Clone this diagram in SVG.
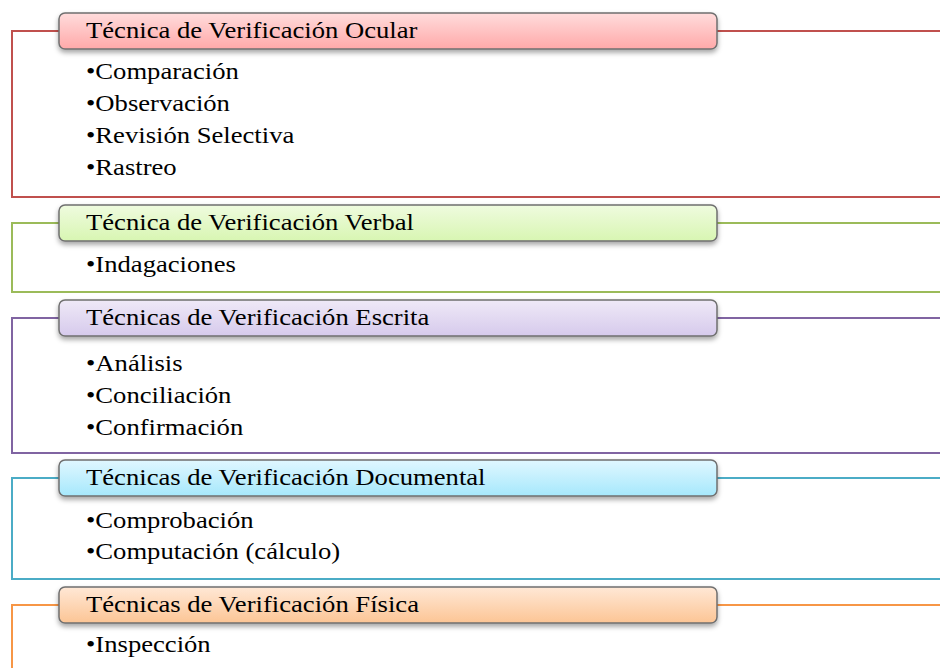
<svg xmlns="http://www.w3.org/2000/svg" width="940" height="668" viewBox="0 0 940 668">
<defs>
<style>
.t{font-family:"Liberation Serif","Times New Roman",serif;font-size:24px;fill:#000}
.box{stroke:#6f6f6f;stroke-width:1.5;filter:url(#sh)}
.ln{fill:none;stroke-width:2}
</style>
<filter id="sh" x="-5%" y="-30%" width="110%" height="180%">
<feDropShadow dx="0" dy="3" stdDeviation="2.5" flood-color="#000" flood-opacity="0.35"/>
</filter>
<linearGradient id="gR" x1="0" y1="0" x2="0" y2="1"><stop offset="0" stop-color="#ffdcdc"/><stop offset="1" stop-color="#ffa9a9"/></linearGradient>
<linearGradient id="gG" x1="0" y1="0" x2="0" y2="1"><stop offset="0" stop-color="#effbdf"/><stop offset="1" stop-color="#d8f6b2"/></linearGradient>
<linearGradient id="gP" x1="0" y1="0" x2="0" y2="1"><stop offset="0" stop-color="#efe9f7"/><stop offset="1" stop-color="#d6caec"/></linearGradient>
<linearGradient id="gC" x1="0" y1="0" x2="0" y2="1"><stop offset="0" stop-color="#e0f7ff"/><stop offset="1" stop-color="#a6e8fc"/></linearGradient>
<linearGradient id="gO" x1="0" y1="0" x2="0" y2="1"><stop offset="0" stop-color="#ffe8d6"/><stop offset="1" stop-color="#fcc595"/></linearGradient>
</defs>
<rect width="940" height="668" fill="#fff"/>
<g id="connectors">
<path class="ln" stroke="#c0504d" d="M59 31H12V197H940M717 31H940"/>
<path class="ln" stroke="#9bbb59" d="M59 223H12V292H940M717 223H940"/>
<path class="ln" stroke="#8064a2" d="M59 318H12V453H940M717 318H940"/>
<path class="ln" stroke="#4bacc6" d="M59 478H12V579H940M717 478H940"/>
<path class="ln" stroke="#f79646" d="M59 605H12V668M717 605H940"/>
</g>
<g id="node-ocular">
<rect class="box" x="59" y="13" width="658" height="36" rx="6" fill="url(#gR)"/>
<g transform="scale(1.11 1)">
<text class="t" x="77.5" y="38">Técnica de Verificación Ocular</text>
<text class="t" x="77.5" y="79">•Comparación</text>
<text class="t" x="77.5" y="111">•Observación</text>
<text class="t" x="77.5" y="143">•Revisión Selectiva</text>
<text class="t" x="77.5" y="175">•Rastreo</text>
</g>
</g>
<g id="node-verbal">
<rect class="box" x="59" y="205" width="658" height="36" rx="6" fill="url(#gG)"/>
<g transform="scale(1.11 1)">
<text class="t" x="77.5" y="230">Técnica de Verificación Verbal</text>
<text class="t" x="77.5" y="272">•Indagaciones</text>
</g>
</g>
<g id="node-escrita">
<rect class="box" x="59" y="300" width="658" height="36" rx="6" fill="url(#gP)"/>
<g transform="scale(1.11 1)">
<text class="t" x="77.5" y="325">Técnicas de Verificación Escrita</text>
<text class="t" x="77.5" y="371">•Análisis</text>
<text class="t" x="77.5" y="403">•Conciliación</text>
<text class="t" x="77.5" y="435">•Confirmación</text>
</g>
</g>
<g id="node-documental">
<rect class="box" x="59" y="460" width="658" height="36" rx="6" fill="url(#gC)"/>
<g transform="scale(1.11 1)">
<text class="t" x="77.5" y="485">Técnicas de Verificación Documental</text>
<text class="t" x="77.5" y="528">•Comprobación</text>
<text class="t" x="77.5" y="559">•Computación (cálculo)</text>
</g>
</g>
<g id="node-fisica">
<rect class="box" x="59" y="587" width="658" height="36" rx="6" fill="url(#gO)"/>
<g transform="scale(1.11 1)">
<text class="t" x="77.5" y="612">Técnicas de Verificación Física</text>
<text class="t" x="77.5" y="652">•Inspección</text>
</g>
</g>
</svg>
